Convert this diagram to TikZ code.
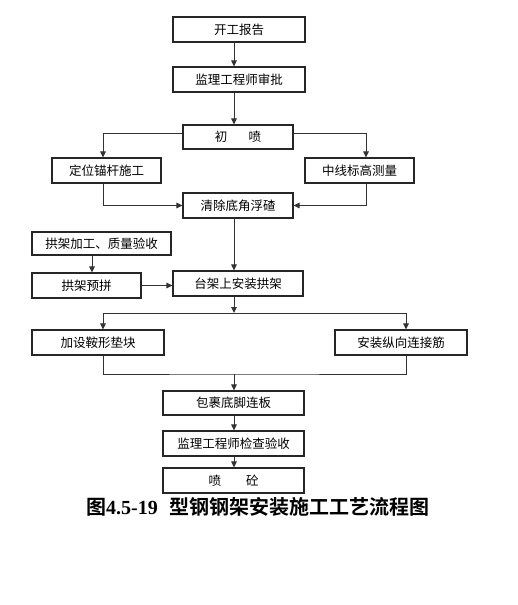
\documentclass[tikz,border=0pt]{standalone}
\usepackage{fontspec}
\setmainfont{Liberation Serif}
\newfontfamily\cjk[BoldFont={Noto Sans CJK SC Bold}]{Noto Sans CJK SC}
\usetikzlibrary{arrows.meta}

\begin{document}
\begin{tikzpicture}[
  x=1pt, y=-1pt,
  block/.style={draw=black!85,line width=1.1pt,inner sep=0pt,minimum height=25pt,
    font=\cjk\fontsize{12.5}{12.5}\selectfont},
  flow/.style={draw=black!80,line width=1pt},
  arrow/.style={flow,-{Triangle[length=6pt,width=5.5pt]}}
]
  \useasboundingbox (0,0) rectangle (517,605);
  \coordinate (axis) at (234,0);

  % main column
  \node[block,minimum width=132pt] (report) at (239,29.5) {开工报告};
  \node[block,minimum width=132pt] (approve) at (239,79.5) {监理工程师审批};
  \node[block,minimum width=110pt,minimum height=24pt] (spray) at (238,137) {初\hspace{1.7em}喷};
  \node[block,minimum width=109pt] (anchor) at (106.5,170.5) {定位锚杆施工};
  \node[block,minimum width=109pt] (survey) at (359.5,170.5) {中线标高测量};
  \node[block,minimum width=110pt] (clear) at (238,205.5) {清除底角浮碴};

  % arch frame branch
  \node[block,minimum width=139pt,minimum height=23pt] (process) at (101.5,243.5) {拱架加工、质量验收};
  \node[block,minimum width=109pt] (preassemble) at (86.5,285.5) {拱架预拼};
  \node[block,minimum width=130pt] (mount) at (238,283.5) {台架上安装拱架};

  \node[block,minimum width=132pt] (pad) at (98,342.5) {加设鞍形垫块};
  \node[block,minimum width=132pt] (rebar) at (401,342.5) {安装纵向连接筋};

  \node[block,minimum width=141pt,minimum height=24pt] (wrap) at (233.5,403) {包裹底脚连板};
  \node[block,minimum width=141pt] (inspect) at (233.5,443.5) {监理工程师检查验收};
  \node[block,minimum width=141pt] (shotcrete) at (233.5,480.5) {喷\hspace{2em}砼};

  \coordinate (fork) at (234,313);
  \coordinate (merge) at (234,374);

  \draw[arrow] (report.south -| axis) -- (approve.north -| axis);
  \draw[arrow] (approve.south -| axis) -- (spray.north -| axis);
  \draw[arrow] ([yshift=4pt]spray.west) -| ([xshift=-3.5pt]anchor.north);
  \draw[arrow] ([yshift=4pt]spray.east) -| ([xshift=6.5pt]survey.north);
  \draw[arrow] ([xshift=-3.5pt]anchor.south) |- (clear.west);
  \draw[arrow] ([xshift=6.5pt]survey.south) |- (clear.east);
  \draw[arrow] (clear.south -| axis) -- (mount.north -| axis);

  \draw[arrow] ([xshift=5.5pt]preassemble.north |- process.south) -- ([xshift=5.5pt]preassemble.north);
  \draw[arrow] (preassemble.east) -- (preassemble.east -| mount.west);

  \draw[arrow] (mount.south -| axis) -- (fork);
  \draw[arrow] (fork) -| ([xshift=5pt]pad.north);
  \draw[arrow] (fork) -| ([xshift=5pt]rebar.north);
  \draw[flow] ([xshift=5pt]pad.south) |- (merge) -| ([xshift=5pt]rebar.south);
  \draw[arrow] (merge) -- (wrap.north -| axis);

  \draw[arrow] (wrap.south -| axis) -- (inspect.north -| axis);
  \draw[arrow] (inspect.south -| axis) -- (shotcrete.north -| axis);

  \node[font=\cjk\bfseries\fontsize{20}{20}\selectfont] (caption) at (258,507)
    {图{\rmfamily\bfseries 4.5-19}\hspace{12pt}型钢钢架安装施工工艺流程图};
\end{tikzpicture}
\end{document}
